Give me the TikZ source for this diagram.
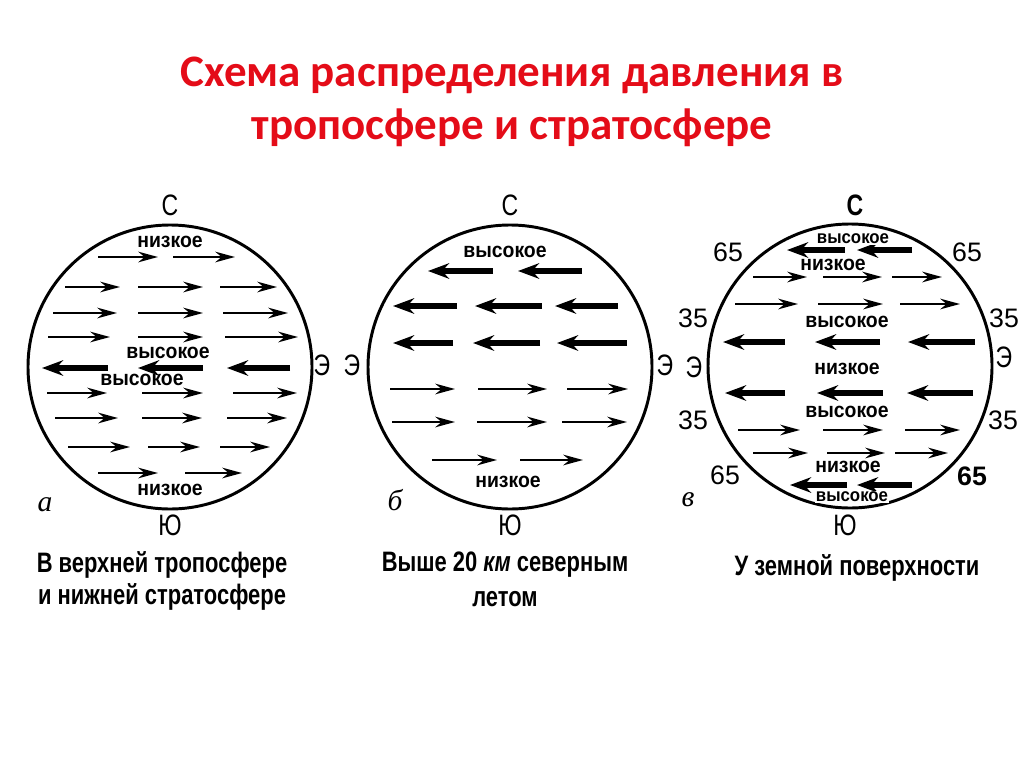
\documentclass[tikz,border=0pt]{standalone}
\usepackage{fontspec}
\setmainfont{Liberation Sans}
\newfontfamily\titlefont{Carlito}
\newfontfamily\capfont[FakeStretch=0.78]{Liberation Sans}
\newfontfamily\lblfont[FakeStretch=0.92]{Liberation Sans}
\newfontfamily\letfont{Liberation Serif}
\usetikzlibrary{arrows.meta}
\definecolor{titlered}{RGB}{228,12,24}

\begin{document}
\begin{tikzpicture}[x=0.025cm,y=-0.025cm,
    globe/.style={line width=2.1pt},
    thinarr/.style={line width=1.8pt,-{Stealth[length=14pt,width=7.5pt,inset=4.5pt]}},
    thickarr/.style={line width=4pt,-{Stealth[length=15pt,width=11pt,inset=5pt]}},
    lbl/.style={font=\lblfont\bfseries\fontsize{15}{15}\selectfont,inner sep=0pt},
    smlbl/.style={font=\lblfont\bfseries\fontsize{13}{13}\selectfont,inner sep=1pt,fill=white},
    side/.style={font=\capfont\fontsize{21}{21}\selectfont,inner sep=0pt},
    lat/.style={font=\fontsize{19}{19}\selectfont,inner sep=0pt},
    letter/.style={font=\letfont\itshape\fontsize{21}{21}\selectfont,inner sep=0pt},
    caption/.style={font=\capfont\bfseries\fontsize{20}{20}\selectfont,inner sep=0pt}]
  \useasboundingbox (0,0) rectangle (1024,768);

  % title
  \node[font=\titlefont\bfseries\fontsize{32}{32}\selectfont,text=titlered] (title1) at (512,75) {Схема распределения давления в};
  \node[font=\titlefont\bfseries\fontsize{32}{32}\selectfont,text=titlered] (title2) at (512,128) {тропосфере и стратосфере};

  % a: upper troposphere
  \draw[globe] (170,367) circle (142);
  \foreach \y/\a/\b in {257/98/158, 257/173/235,
      287/65/120, 287/138/203, 287/220/277,
      313/53/117, 313/138/203, 313/223/288,
      337/48/110, 337/138/203, 337/225/298,
      393/47/107, 393/142/203, 393/233/297,
      418/55/118, 418/142/202, 418/227/287,
      447/68/130, 447/148/200, 447/220/270,
      473/98/158, 473/185/242}
    \draw[thinarr] (\a,\y) -- (\b,\y);
  \foreach \y/\a/\b in {368/42/108, 368/138/203, 368/227/290}
    \draw[thickarr] (\b,\y) -- (\a,\y);
  \node[side] (aN) at (170,205) {С};
  \node[side] (aE) at (322,365) {Э};
  \node[side] (aS) at (170,525) {Ю};
  \node[letter] (aL) at (45,505) {а};
  \node[lbl] (aLow1) at (170,242) {низкое};
  \node[lbl] (aHigh1) at (168,353) {высокое};
  \node[lbl] (aHigh2) at (142,380) {высокое};
  \node[lbl] (aLow2) at (170,490) {низкое};
  \node[caption] (aCap1) at (162,565) {В верхней тропосфере};
  \node[caption] (aCap2) at (162,597) {и нижней стратосфере};

  % b: above 20 km
  \draw[globe] (510,367) circle (142);
  \foreach \y/\a/\b in {271/428/493, 271/518/582,
      306/393/457, 306/475/542, 306/555/618,
      343/393/453, 343/473/540, 343/557/627}
    \draw[thickarr] (\b,\y) -- (\a,\y);
  \foreach \y/\a/\b in {389/390/455, 389/478/547, 389/567/628,
      422/392/455, 422/477/547, 422/562/627,
      460/432/497, 460/520/583}
    \draw[thinarr] (\a,\y) -- (\b,\y);
  \node[side] (bN) at (510,205) {С};
  \node[side] (bW) at (352,365) {Э};
  \node[side] (bE) at (665,365) {Э};
  \node[side] (bS) at (510,525) {Ю};
  \node[letter] (bL) at (395,500) {б};
  \node[lbl] (bHigh) at (505,252) {высокое};
  \node[lbl] (bLow) at (508,482) {низкое};
  \node[caption] (bCap1) at (505,565) {Выше 20 \textit{км} северным};
  \node[caption] (bCap2) at (505,599) {летом};

  % c: near the surface
  \draw[globe] (850,366) circle (142);
  \foreach \y/\a/\b in {250/787/845, 250/857/912,
      342/723/785, 342/815/880, 342/908/975,
      393/725/785, 393/817/883, 393/907/973,
      485/790/847, 485/857/912}
    \draw[thickarr] (\b,\y) -- (\a,\y);
  \foreach \y/\a/\b in {277/753/807, 277/823/882, 277/892/942,
      304/735/798, 304/818/883, 304/900/960,
      430/738/800, 430/823/883, 430/905/960,
      453/753/808, 453/827/885, 453/895/948}
    \draw[thinarr] (\a,\y) -- (\b,\y);
  \node[side,font=\capfont\bfseries\fontsize{21}{21}\selectfont] (cN) at (855,205) {С};
  \node[side] (cW) at (694,367) {Э};
  \node[side] (cE) at (1004,357) {Э};
  \node[side] (cS) at (845,525) {Ю};
  \node[letter] (cL) at (688,500) {в};
  \node[lat] (cNW65) at (728,252) {65};
  \node[lat] (cNE65) at (967,252) {65};
  \node[lat] (cNW35) at (693,318) {35};
  \node[lat] (cNE35) at (1004,318) {35};
  \node[lat] (cSW35) at (693,420) {35};
  \node[lat] (cSE35) at (1003,420) {35};
  \node[lat] (cSW65) at (725,475) {65};
  \node[lat,font=\bfseries\fontsize{19}{19}\selectfont] (cSE65) at (972,476) {65};
  \node[smlbl] (cHigh1) at (853,239) {высокое};
  \node[lbl] (cLow1) at (833,265) {низкое};
  \node[lbl] (cHigh2) at (847,322) {высокое};
  \node[lbl] (cLow2) at (847,369) {низкое};
  \node[lbl] (cHigh3) at (847,412) {высокое};
  \node[lbl] (cLow3) at (848,467) {низкое};
  \node[smlbl] (cHigh4) at (852,497) {высокое};
  \node[caption] (cCap) at (857,568) {У земной поверхности};
\end{tikzpicture}
\end{document}
